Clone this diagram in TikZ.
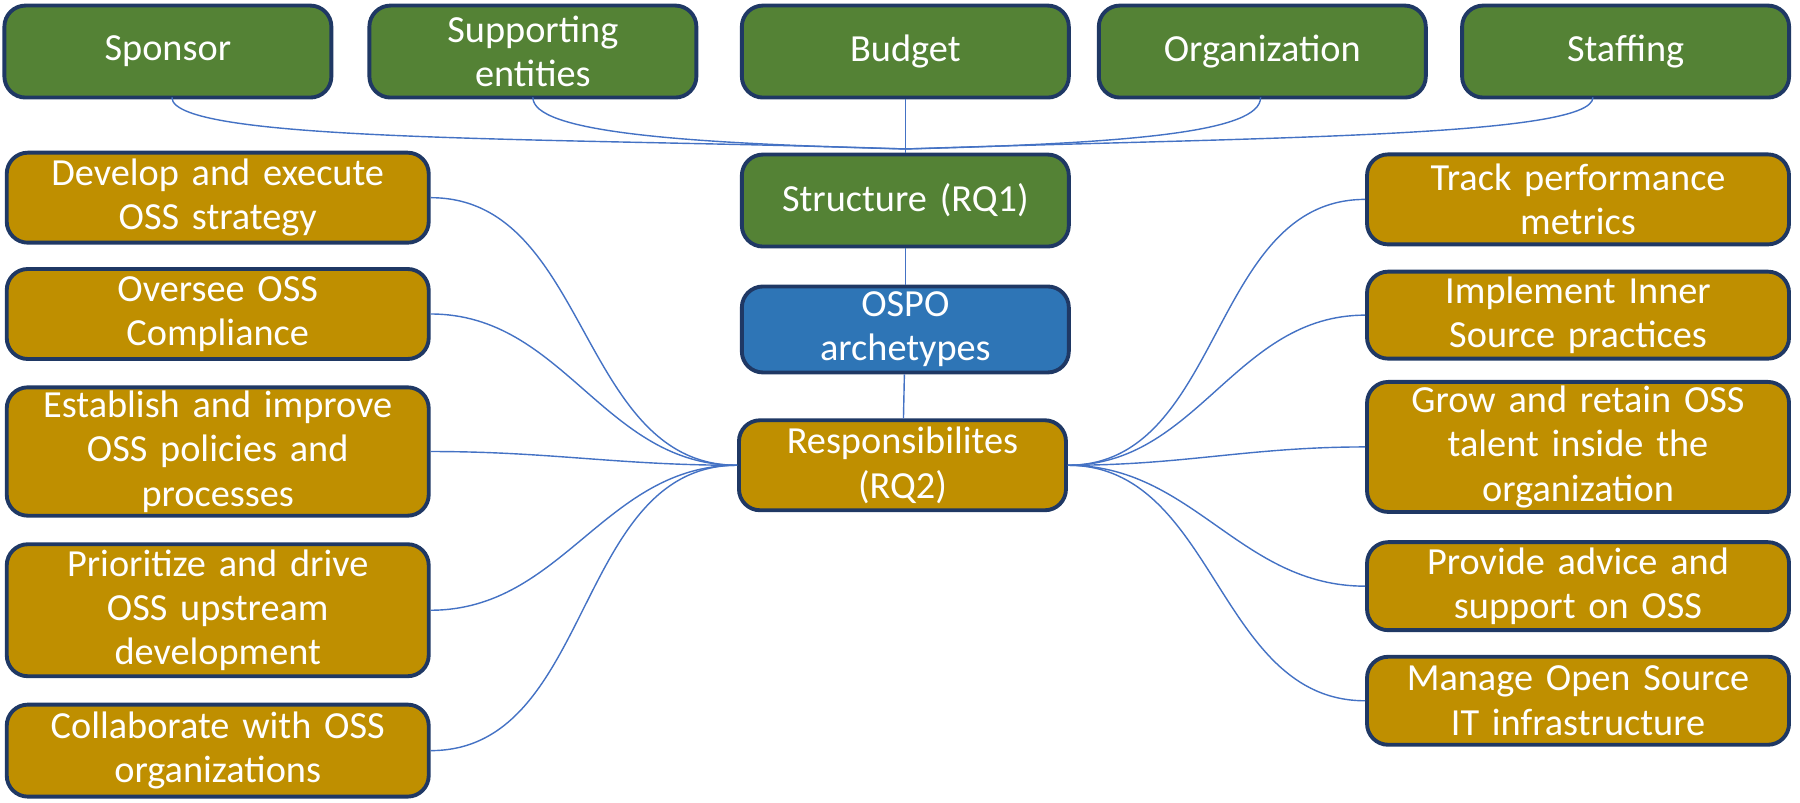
\documentclass[tikz,border=0pt]{standalone}
\usepackage{fontspec}
\setmainfont{Carlito}
\definecolor{boxgreen}{RGB}{84,130,53}
\definecolor{boxgold}{RGB}{191,143,0}
\definecolor{boxblue}{RGB}{46,117,182}
\definecolor{boxedge}{RGB}{31,56,100}
\definecolor{linkblue}{RGB}{68,114,196}
\begin{document}
\begin{tikzpicture} [x=1.146cm,y=1.146cm,
box/.style={draw=boxedge,line width=1.1pt,rounded corners=6pt,text=white,align=center,
    font=\fontsize{10.9}{12.6}\selectfont,inner sep=1pt},
grn/.style={box,fill=boxgreen,minimum width=3.27cm,minimum height=0.92cm,text width=3.1cm},
gold/.style={box,fill=boxgold,minimum width=4.22cm,text width=4.0cm},
link/.style={draw=linkblue,thin},
]
    \useasboundingbox (0,0) rectangle (15.707,-7.007);
    % top row
    \node [grn] (sponsor) at (1.465,-0.45) {Sponsor};
    \node [grn] (support) at (4.65,-0.45) {Supporting\\entities};
    \node [grn] (budget) at (7.9,-0.45) {Budget};
    \node [grn] (orga) at (11.015,-0.45) {Organization};
    \node [grn] (staff) at (14.185,-0.45) {Staffing};
    % centre column
    \node [grn] (struct) at (7.9,-1.75) {Structure (RQ1)};
    \node [grn,fill=boxblue,minimum height=0.86cm] (ospo) at (7.9,-2.875) {OSPO\\archetypes};
    \node [grn,fill=boxgold,minimum height=0.9cm] (resp) at (7.875,-4.06) {Responsibilites\\(RQ2)};
    % left column
    \node [gold,minimum height=0.9cm] (l1) at (1.9,-1.725) {Develop and execute\\OSS strategy};
    \node [gold,minimum height=0.9cm] (l2) at (1.9,-2.74) {Oversee OSS\\Compliance};
    \node [gold,minimum height=1.28cm] (l3) at (1.9,-3.94) {Establish and improve\\OSS policies and\\processes};
    \node [gold,minimum height=1.32cm] (l4) at (1.9,-5.325) {Prioritize and drive\\OSS upstream\\development};
    \node [gold,minimum height=0.92cm] (l5) at (1.9,-6.55) {Collaborate with OSS\\organizations};
    % right column
    \node [gold,minimum height=0.9cm] (r1) at (13.77,-1.74) {Track performance\\metrics};
    \node [gold,minimum height=0.87cm] (r2) at (13.77,-2.75) {Implement Inner\\Source practices};
    \node [gold,minimum height=1.3cm] (r3) at (13.77,-3.9) {Grow and retain OSS\\talent inside the\\organization};
    \node [gold,minimum height=0.88cm] (r4) at (13.77,-5.115) {Provide advice and\\support on OSS};
    \node [gold,minimum height=0.88cm] (r5) at (13.77,-6.115) {Manage Open Source\\IT infrastructure};

    \coordinate (hub) at (7.9,-1.3);
    \coordinate (s1) at (1.5,-0.85);
    \coordinate (s2) at (4.65,-0.85);
    \coordinate (s4) at (11.0,-0.85);
    \coordinate (s5) at (13.9,-0.85);
    \draw [link] (s1) .. controls +(0,-0.4) and +(-3,0.1) .. (hub);
    \draw [link] (s2) .. controls +(0,-0.3) and +(-2,0.05) .. (hub);
    \draw [link] (budget.south) -- (struct.north);
    \draw [link] (s4) .. controls +(0,-0.3) and +(2,0.05) .. (hub);
    \draw [link] (s5) .. controls +(0,-0.35) and +(3,0.1) .. (hub);
    \draw [link] (struct) -- (ospo);
    \draw [link] (ospo) -- (resp);
    \foreach \b in {l1,l2,l3,l4,l5}
        \draw [link] (\b.east) to[out=0,in=180] (resp.west);
    \foreach \b in {r1,r2,r3,r4,r5}
        \draw [link] (\b.west) to[out=180,in=0] (resp.east);
\end{tikzpicture}
\end{document}
